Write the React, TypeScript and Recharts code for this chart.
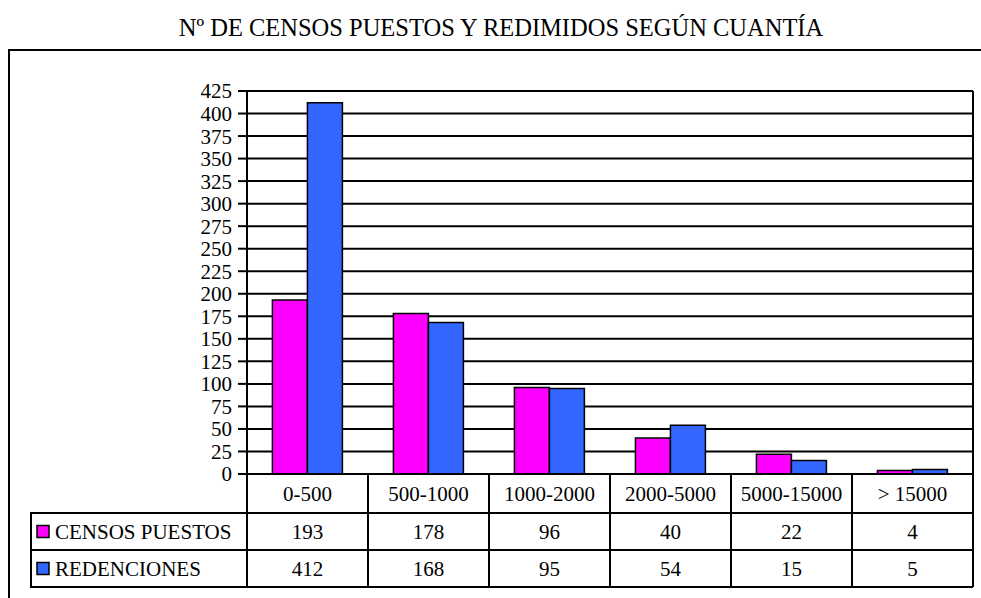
import React from 'react';
import { BarChart, Bar, XAxis, YAxis, CartesianGrid } from 'recharts';

const categories = ['0-500', '500-1000', '1000-2000', '2000-5000', '5000-15000', '> 15000'];
const censosPuestos = [193, 178, 96, 40, 22, 4];
const redenciones = [412, 168, 95, 54, 15, 5];
const seriesNames = ['CENSOS PUESTOS', 'REDENCIONES'];
const seriesColors = ['#FF00FF', '#3366FF'];
const yTicks = [0, 25, 50, 75, 100, 125, 150, 175, 200, 225, 250, 275, 300, 325, 350, 375, 400, 425];
const title = 'Nº DE CENSOS PUESTOS Y REDIMIDOS SEGÚN CUANTÍA';

const data = categories.map((c, i) => ({ cat: c, censos: censosPuestos[i], red: redenciones[i] }));
const seriesValues = [censosPuestos, redenciones];

const FONT = "Liberation Serif, 'DejaVu Serif', 'Noto Serif', serif";
const ROW0 = 39;
const ROW = 37;
const LEGEND_LEFT = 31;
const FS = 21;

function TableTick(props: any) {
  const { x, y, payload, index, width, visibleTicksCount } = props;
  const half = payload && payload.offset ? payload.offset : width / visibleTicksCount / 2;
  const left = x - half;
  const right = x + half;
  const bottom = y + ROW0 + ROW * 2;
  const sw = 2;
  return (
    <g>
      <line x1={right} y1={y} x2={right} y2={bottom} stroke="#000" strokeWidth={sw} />
      {index === 0 && <line x1={left} y1={y} x2={left} y2={bottom} stroke="#000" strokeWidth={sw} />}
      <line x1={left} y1={y + ROW0} x2={right} y2={y + ROW0} stroke="#000" strokeWidth={sw} />
      <line x1={left} y1={y + ROW0 + ROW} x2={right} y2={y + ROW0 + ROW} stroke="#000" strokeWidth={sw} />
      <line x1={left} y1={bottom} x2={right} y2={bottom} stroke="#000" strokeWidth={sw} />
      <text x={x} y={y + ROW0 / 2 + 7} textAnchor="middle" style={{ fontFamily: FONT, fontSize: FS }} fill="#000">
        {payload.value}
      </text>
      {seriesValues.map((vals, si) => (
        <text key={si} x={x} y={y + ROW0 + ROW * si + ROW / 2 + 7} textAnchor="middle" style={{ fontFamily: FONT, fontSize: FS }} fill="#000">
          {vals[index]}
        </text>
      ))}
      {index === 0 && (
        <g>
          <line x1={LEGEND_LEFT} y1={y + ROW0} x2={left} y2={y + ROW0} stroke="#000" strokeWidth={sw} />
          <line x1={LEGEND_LEFT} y1={y + ROW0 + ROW} x2={left} y2={y + ROW0 + ROW} stroke="#000" strokeWidth={sw} />
          <line x1={LEGEND_LEFT} y1={bottom} x2={left} y2={bottom} stroke="#000" strokeWidth={sw} />
          <line x1={LEGEND_LEFT} y1={y + ROW0 - 1} x2={LEGEND_LEFT} y2={bottom + 1} stroke="#000" strokeWidth={sw} />
          {seriesNames.map((n, si) => {
            const cy = y + ROW0 + ROW * si + ROW / 2;
            return (
              <g key={n}>
                <rect x={LEGEND_LEFT + 6} y={cy - 6} width={12} height={12} fill={seriesColors[si]} stroke="#000" strokeWidth={1.5} />
                <text x={LEGEND_LEFT + 24} y={cy + 7} textAnchor="start" style={{ fontFamily: FONT, fontSize: FS }} fill="#000">
                  {n}
                </text>
              </g>
            );
          })}
        </g>
      )}
    </g>
  );
}

export default function App() {
  return (
    <div style={{ position: 'absolute', left: 0, top: 0, width: 981, height: 598, overflow: 'hidden', background: '#fff' }}>
      <div
        style={{
          position: 'absolute',
          left: 0,
          top: 14,
          width: 1002,
          textAlign: 'center',
          fontFamily: FONT,
          fontSize: 24.5,
          lineHeight: '28px',
          color: '#000',
          whiteSpace: 'nowrap',
        }}
      >
        {title}
      </div>
      <div
        style={{
          position: 'absolute',
          left: 8,
          top: 49,
          width: 1000,
          height: 600,
          border: '2px solid #000',
        }}
      />
      <div style={{ position: 'absolute', left: 0, top: 0 }}>
        <BarChart
          width={981}
          height={598}
          data={data}
          margin={{ top: 91, right: 8, left: 187, bottom: 0 }}
          barCategoryGap="21%"
          barGap={0}
        >
          <CartesianGrid
            stroke="#000"
            strokeWidth={2}
            vertical={true}
            horizontal={true}
            verticalCoordinatesGenerator={({ offset }: any) => [offset.left + offset.width]}
          />
          <XAxis
            dataKey="cat"
            height={124}
            tickSize={0}
            tickMargin={0}
            tickLine={false}
            axisLine={{ stroke: '#000', strokeWidth: 2 }}
            interval={0}
            tick={<TableTick />}
          />
          <YAxis
            width={60}
            domain={[0, 425]}
            ticks={yTicks}
            interval={0}
            tickSize={9}
            tickMargin={6}
            tickLine={{ stroke: '#000', strokeWidth: 2 }}
            axisLine={{ stroke: '#000', strokeWidth: 2 }}
            tick={{ style: { fontFamily: FONT, fontSize: FS }, fill: '#000' }}
          />
          <Bar dataKey="censos" name={seriesNames[0]} fill={seriesColors[0]} stroke="#000" strokeWidth={1.5} isAnimationActive={false} />
          <Bar dataKey="red" name={seriesNames[1]} fill={seriesColors[1]} stroke="#000" strokeWidth={1.5} isAnimationActive={false} />
        </BarChart>
      </div>
    </div>
  );
}
